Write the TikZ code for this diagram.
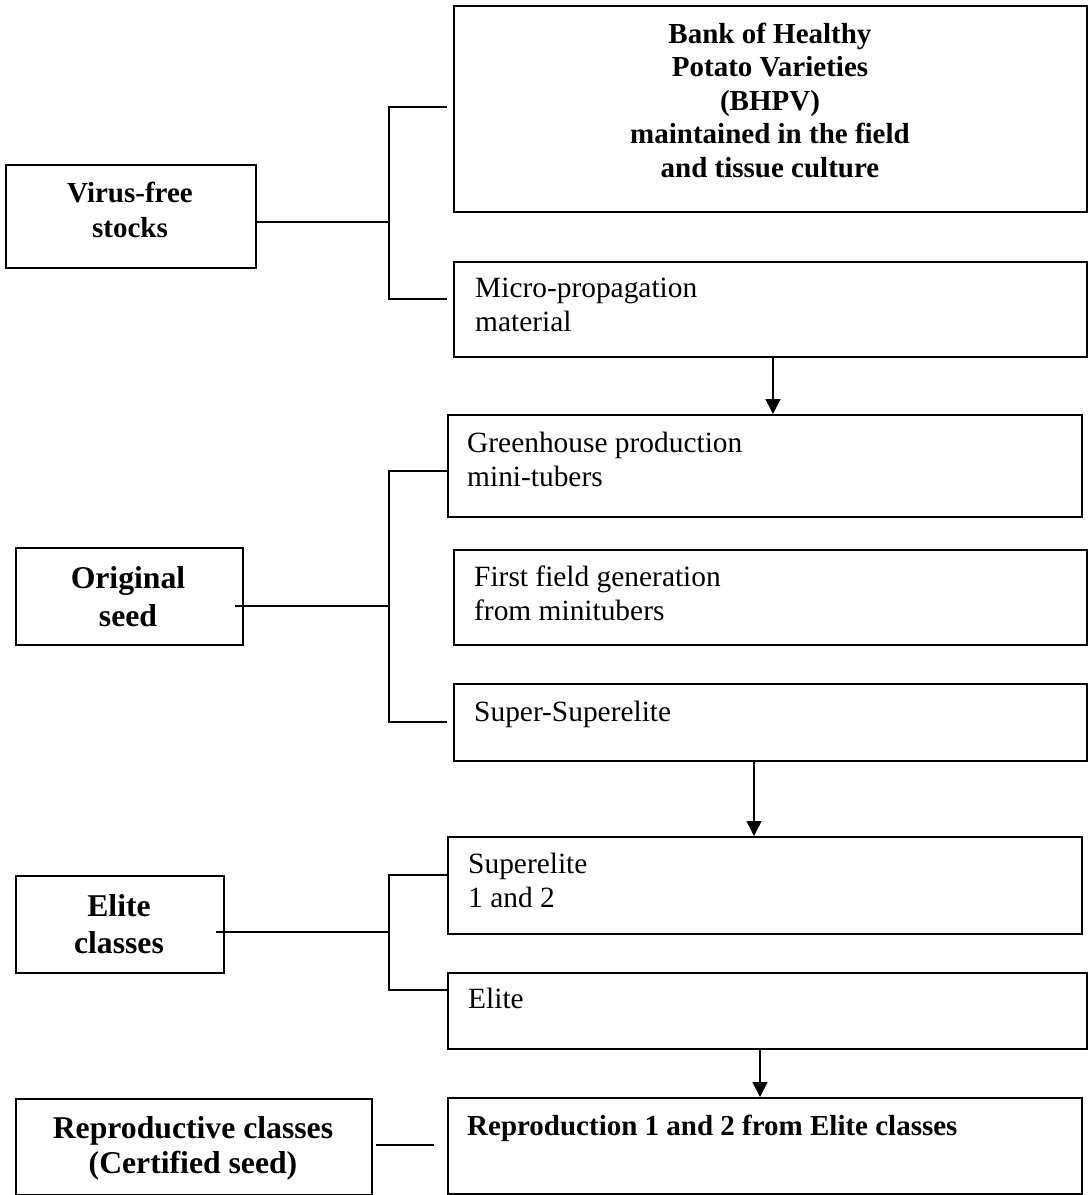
\documentclass[tikz,border=0pt]{standalone}
\usepackage{fontspec}
\setmainfont{Liberation Serif}
\usetikzlibrary{arrows.meta}
\tikzset{
  box/.style={draw, line width=1.6pt, anchor=north west, inner sep=0pt},
  conn/.style={line width=1.6pt},
  arr/.style={line width=1.6pt, -{Triangle[width=15pt,length=15pt]}},
  regtxt/.style={anchor=base west, inner sep=0pt, align=left, font=\fontsize{29.4}{34}\selectfont},
  boldtxt/.style={anchor=base, inner sep=0pt, align=center, font=\fontsize{29}{33.5}\selectfont\bfseries},
  bigtxt/.style={anchor=base, inner sep=0pt, align=center, font=\fontsize{31.7}{37}\selectfont\bfseries}
}
\begin{document}
\begin{tikzpicture}[x=1pt,y=-1pt]
\useasboundingbox[fill=white] (0,0) rectangle (1088,1195);

% right column boxes
\node[box, minimum width=633pt, minimum height=206pt] (bhpv) at (453,5) {};
\node[box, minimum width=633pt, minimum height=95pt]  (micro) at (453,261) {};
\node[box, minimum width=634pt, minimum height=102pt] (green) at (447,414) {};
\node[box, minimum width=633pt, minimum height=95pt]  (first) at (453,549) {};
\node[box, minimum width=633pt, minimum height=77pt]  (ssup) at (453,683) {};
\node[box, minimum width=634pt, minimum height=97pt]  (sup) at (447,836) {};
\node[box, minimum width=639pt, minimum height=76pt]  (elite) at (447,972) {};
\node[box, minimum width=634pt, minimum height=96pt]  (repro) at (447,1097) {};

% left column boxes
\node[box, minimum width=250pt, minimum height=103pt] (vfs) at (5,164) {};
\node[box, minimum width=227pt, minimum height=97pt]  (orig) at (15,547) {};
\node[box, minimum width=208pt, minimum height=97pt]  (elcl) at (15,875) {};
\node[box, minimum width=356pt, minimum height=96pt]  (rcl) at (15,1098) {};

% texts (anchor = baseline of the last line)
\node[boldtxt] (tbhpv) at (770,177) {Bank of Healthy\\Potato Varieties\\(BHPV)\\maintained in the field\\and tissue culture};
\node[regtxt] (tmicro) at (475,331) {Micro-propagation\\material};
\node[regtxt] (tgreen) at (467,486) {Greenhouse production\\mini-tubers};
\node[regtxt] (tfirst) at (474,620) {First field generation\\from minitubers};
\node[regtxt] (tssup) at (474,721) {Super-Superelite};
\node[regtxt] (tsup) at (468,907) {Superelite\\1 and 2};
\node[regtxt] (telite) at (468,1008) {Elite};
\node[regtxt, font=\fontsize{29}{33.5}\selectfont\bfseries] (trepro) at (467,1135) {Reproduction 1 and 2 from Elite classes};

\node[boldtxt, font=\fontsize{29}{35}\selectfont\bfseries] (tvfs) at (130,237) {Virus-free\\stocks};
\node[bigtxt, font=\fontsize{31.7}{38}\selectfont\bfseries] (torig) at (128,626) {Original\\seed};
\node[bigtxt] (telcl) at (119,953) {Elite\\classes};
\node[bigtxt, font=\fontsize{31.7}{35}\selectfont\bfseries] (trcl) at (193,1173) {Reproductive classes\\(Certified seed)};

% connector coordinates
\coordinate (v0) at (255,222);
\coordinate (vj) at (389,222);
\coordinate (vt) at (389,107);
\coordinate (vte) at (447,107);
\coordinate (vb) at (389,299);
\coordinate (vbe) at (447,299);

\coordinate (o0) at (235,606);
\coordinate (oj) at (389,606);
\coordinate (ot) at (389,471);
\coordinate (ote) at (447,471);
\coordinate (ob) at (389,722);
\coordinate (obe) at (447,722);

\coordinate (e0) at (216,932);
\coordinate (ej) at (389,932);
\coordinate (et) at (389,875);
\coordinate (ete) at (447,875);
\coordinate (eb) at (389,990);
\coordinate (ebe) at (447,990);

\coordinate (r0) at (376,1145);
\coordinate (r1) at (434,1145);

\coordinate (a1) at (773,0);
\coordinate (a2) at (754,0);
\coordinate (a3) at (760,0);

% connectors
\draw[conn] (v0) -- (vj);
\draw[conn] (vte) -- (vt) -- (vb) -- (vbe);
\draw[conn] (o0) -- (oj);
\draw[conn] (ote) -- (ot) -- (ob) -- (obe);
\draw[conn] (e0) -- (ej);
\draw[conn] (ete) -- (et) -- (eb) -- (ebe);
\draw[conn] (r0) -- (r1);

\draw[arr] (micro.south -| a1) -- (green.north -| a1);
\draw[arr] (ssup.south -| a2) -- (sup.north -| a2);
\draw[arr] (elite.south -| a3) -- (repro.north -| a3);
\end{tikzpicture}
\end{document}
